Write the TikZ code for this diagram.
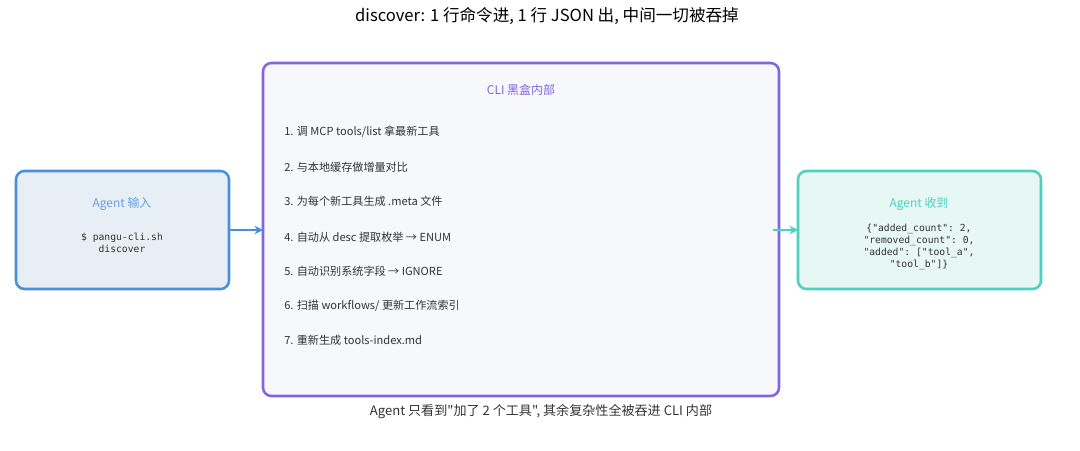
\documentclass[tikz,border=0pt]{standalone}
\usepackage{fontspec}
\setmainfont{Noto Sans CJK SC}
\setmonofont{DejaVu Sans Mono}
\newfontfamily\notefont{Noto Sans CJK SC}
\usetikzlibrary{arrows.meta}
\definecolor{inblue}{HTML}{4A90D9}
\definecolor{infill}{HTML}{E8EEF5}
\definecolor{boxpurple}{HTML}{8266E0}
\definecolor{boxfill}{HTML}{F7F8FC}
\definecolor{outteal}{HTML}{4FCFC0}
\definecolor{outfill}{HTML}{E6F7F4}
\definecolor{textgray}{HTML}{333333}

\begin{document}
\begin{tikzpicture}[x=0.025cm, y=-0.025cm,
		box_style/.style={rounded corners=6pt, line width=1.8pt},
		head_style/.style={font=\fontsize{8.5}{10}\selectfont},
		step_style/.style={anchor=west, inner sep=0pt, text=textgray, font=\fontsize{7.9}{9}\selectfont},
		code_style/.style={align=center, text=textgray, font=\ttfamily\fontsize{6.9}{8.6}\selectfont},
		edge_style/.style={line width=1.8pt, -{Stealth[length=6pt, width=6pt]}}]
		
		\useasboundingbox (0,0) rectangle (1080,450);
		
		\node[font=\fontsize{11.8}{13}\selectfont, text=black] (title) at (547,16) {discover: 1 行命令进, 1 行 JSON 出, 中间一切被吞掉};
		
		\draw[box_style, draw=inblue, fill=infill] (16,171) rectangle (229,289);
		\draw[box_style, draw=boxpurple, fill=boxfill] (263,63) rectangle (779,396);
		\draw[box_style, draw=outteal, fill=outfill] (798,171) rectangle (1041,289);
		\coordinate (in_e) at (229,230);
		\coordinate (cli_w) at (263,230);
		\coordinate (cli_e) at (773,230);
		\coordinate (out_w) at (798,230);
		
		\node[head_style, text=inblue!85] (in_head) at (122,204) {Agent 输入};
		\node[code_style] (in_code) at (122,243) {\$ pangu-cli.sh\\discover};
		
		\node[head_style, text=boxpurple] (cli_head) at (521,90) {CLI 黑盒内部};
		\node[step_style] (s1) at (284,132) {1. 调 MCP tools/list 拿最新工具};
		\node[step_style] (s2) at (284,167) {2. 与本地缓存做增量对比};
		\node[step_style] (s3) at (284,201) {3. 为每个新工具生成 .meta 文件};
		\node[step_style] (s4) at (284,237) {4. 自动从 desc 提取枚举 → ENUM};
		\node[step_style] (s5) at (284,271) {5. 自动识别系统字段 → IGNORE};
		\node[step_style] (s6) at (284,306) {6. 扫描 workflows/ 更新工作流索引};
		\node[step_style] (s7) at (284,340) {7. 重新生成 tools-index.md};
		
		\node[head_style, text=outteal] (out_head) at (919,204) {Agent 收到};
		\node[code_style] (out_code) at (919,247) {\{"added\_count": 2,\\"removed\_count": 0,\\"added": ["tool\_a",\\"tool\_b"]\}};
		
		\node[font=\notefont\fontsize{9.3}{11}\selectfont, text=textgray] (note) at (541,412) {Agent 只看到"加了 2 个工具", 其余复杂性全被吞进 CLI 内部};
		
		\draw[edge_style, draw=inblue] (in_e) -- (cli_w);
		\draw[edge_style, draw=outteal] (cli_e) -- (out_w);
		
\end{tikzpicture}
\end{document}
